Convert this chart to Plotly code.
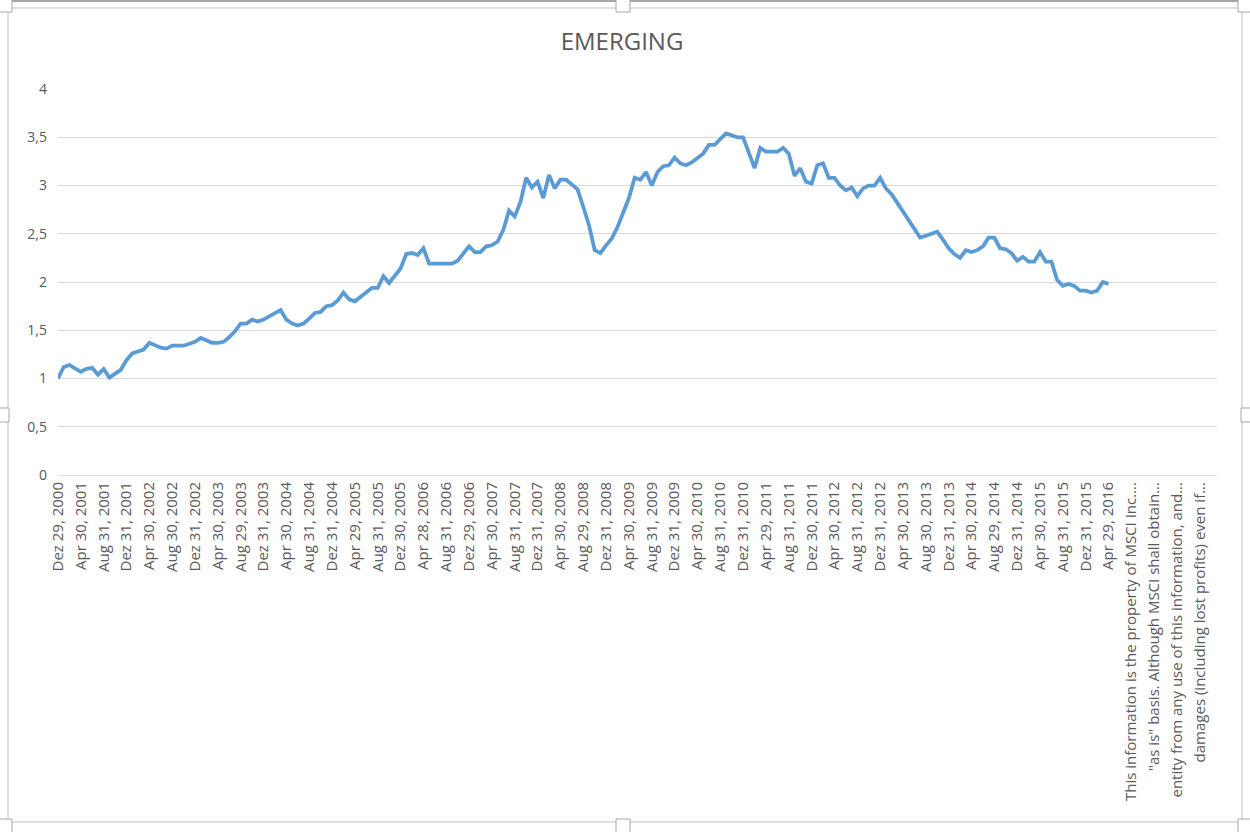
import pandas as pd
import plotly.graph_objects as go

# Month-end index values (Dez 2000 .. Apr 2016)
values = [
    1.00, 1.12, 1.14, 1.10, 1.07, 1.10, 1.11, 1.04, 1.10, 1.01,
    1.05, 1.09, 1.19, 1.26, 1.28, 1.30, 1.37, 1.34, 1.32, 1.31,
    1.34, 1.34, 1.34, 1.36, 1.38, 1.42, 1.40, 1.37, 1.37, 1.38,
    1.43, 1.49, 1.57, 1.57, 1.61, 1.59, 1.61, 1.64, 1.68, 1.71,
    1.61, 1.57, 1.55, 1.57, 1.62, 1.68, 1.69, 1.75, 1.76, 1.81,
    1.89, 1.82, 1.80, 1.85, 1.89, 1.94, 1.94, 2.06, 1.99, 2.06,
    2.14, 2.29, 2.30, 2.28, 2.35, 2.19, 2.19, 2.19, 2.19, 2.19,
    2.22, 2.30, 2.37, 2.31, 2.31, 2.37, 2.38, 2.42, 2.54, 2.74,
    2.68, 2.83, 3.08, 2.98, 3.04, 2.87, 3.11, 2.97, 3.06, 3.06,
    3.01, 2.96, 2.78, 2.59, 2.33, 2.30, 2.38, 2.45, 2.57, 2.73,
    2.87, 3.08, 3.06, 3.14, 3.00, 3.14, 3.20, 3.21, 3.29, 3.23,
    3.21, 3.24, 3.28, 3.33, 3.42, 3.42, 3.48, 3.54, 3.52, 3.50,
    3.50, 3.33, 3.18, 3.39, 3.35, 3.35, 3.35, 3.39, 3.33, 3.10,
    3.18, 3.04, 3.02, 3.21, 3.23, 3.08, 3.08, 3.00, 2.95, 2.98,
    2.89, 2.97, 3.00, 3.00, 3.08, 2.97, 2.91, 2.82, 2.73, 2.65,
    2.56, 2.46, 2.48, 2.50, 2.52, 2.44, 2.35, 2.29, 2.25, 2.33,
    2.31, 2.33, 2.37, 2.46, 2.46, 2.35, 2.34, 2.30, 2.22, 2.26,
    2.21, 2.21, 2.31, 2.21, 2.21, 2.02, 1.96, 1.98, 1.96, 1.91,
    1.91, 1.89, 1.91, 2.00, 1.98,
]

months_de = ["Jan", "Feb", "Mär", "Apr", "Mai", "Jun",
             "Jul", "Aug", "Sep", "Okt", "Nov", "Dez"]

footnotes = [
    "This information is the property of MSCI Inc....",
    "\"as is\" basis. Although MSCI shall obtain...",
    "entity from any use of this information, and...",
    "damages (including lost profits) even if...",
]

# business month-end dates for the category labels
dates = pd.date_range("2000-12-01", "2016-04-30", freq="BME")
date_labels = [f"{months_de[d.month - 1]} {d.day:02d}, {d.year}" for d in dates]

# rows after the data in the sheet: blanks with the footnote text every 4th row
extra = []
for note in footnotes:
    extra += ["", "", "", note]
extra += ["", "", ""]
labels = date_labels + extra

x_all = list(range(len(labels)))
x_data = x_all[:len(values)]

L, R, T, B = 58, 33, 89, 357
W, H = 1250, 832
PW, PH = W - L - R, H - T - B


def px(x):
    return (x - L) / PW


def py(y):
    return (H - B - y) / PH


fig = go.Figure()
fig.add_trace(
    go.Scatter(
        x=x_data,
        y=values,
        mode="lines",
        line=dict(color="#5b9bd5", width=3.75),
        hoverinfo="y",
        showlegend=False,
    )
)

fig.update_layout(
    width=W,
    height=H,
    margin=dict(l=L, r=R, t=T, b=B, autoexpand=False),
    paper_bgcolor="white",
    plot_bgcolor="white",
    separators=",.",
    font=dict(family="Open Sans", color="#595959", size=14),
    title=dict(
        text="EMERGING",
        x=0.4976,
        xanchor="center",
        y=1 - 42 / H,
        yanchor="middle",
        font=dict(family="Open Sans", size=24, color="#595959"),
    ),
)

fig.update_xaxes(
    range=[0, len(labels) - 1],
    tickmode="array",
    tickvals=x_all[::4],
    ticktext=labels[::4],
    tickangle=-90,
    tickfont=dict(size=15, color="#595959"),
    showgrid=False,
    zeroline=False,
    showline=True,
    linecolor="#d9d9d9",
    linewidth=1,
    ticks="",
    automargin=False,
)
fig.update_yaxes(
    range=[0, 4],
    dtick=0.5,
    showgrid=True,
    gridcolor="#d9d9d9",
    gridwidth=1,
    zeroline=False,
    tickfont=dict(size=14, color="#595959"),
    ticklabelstandoff=10,
    automargin=False,
)

# chart frame + selection handles
border = "#bfbfbf"
fig.add_shape(type="rect", xref="paper", yref="paper",
              x0=px(8), x1=px(1242), y0=py(8), y1=py(822),
              line=dict(color=border, width=1), layer="below")
fig.add_shape(type="rect", xref="paper", yref="paper",
              x0=px(0), x1=px(W), y0=py(0), y1=py(2),
              line=dict(width=0), fillcolor="#a6a6a6")
handles = [
    (616, -2, 630, 12), (-2, 408, 9, 422), (1241, 408, 1252, 422),
    (616, 819, 630, 834), (-2, -2, 12, 12), (1238, -2, 1252, 12),
    (-2, 819, 12, 834), (1238, 819, 1252, 834),
]
for x0, y0, x1, y1 in handles:
    fig.add_shape(type="rect", xref="paper", yref="paper",
                  x0=px(x0), x1=px(x1), y0=py(y0), y1=py(y1),
                  line=dict(color="#a6a6a6", width=1), fillcolor="white")

# drop the default 8px page margin so the figure fills the window
fig.write_html(
    "out.html",
    config={"displayModeBar": False},
    post_script="document.body.style.margin='0';document.body.style.overflow='hidden';",
)
